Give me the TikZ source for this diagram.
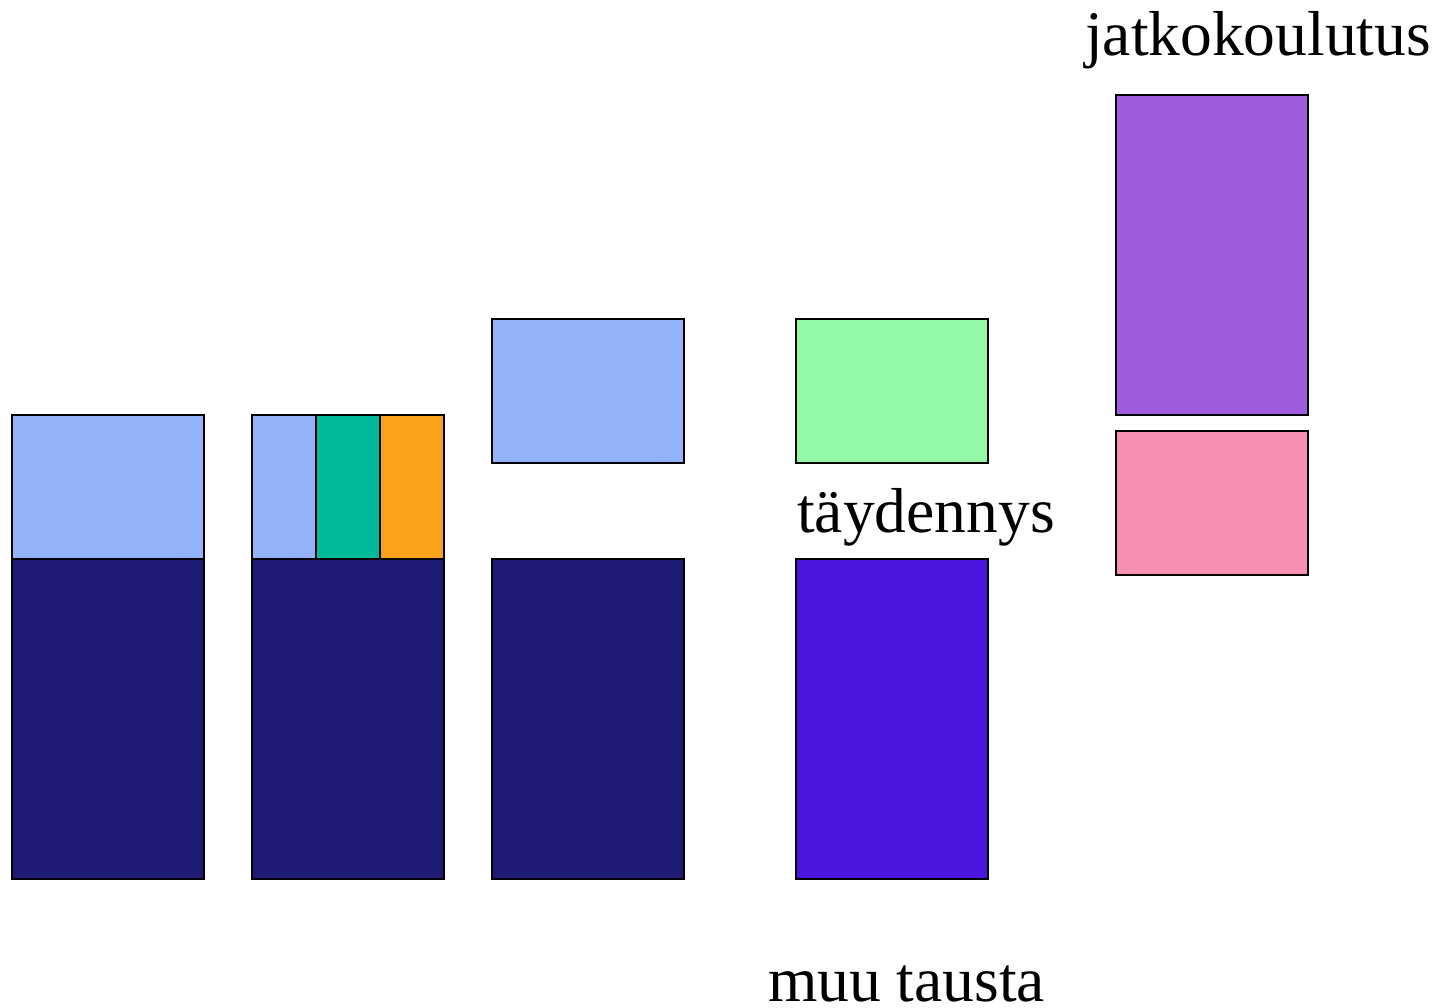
\documentclass[tikz,border=0pt]{standalone}
\usepackage{fontspec}
\setmainfont{Liberation Serif}
\definecolor{lblue}{HTML}{93B3F8}
\definecolor{navy}{HTML}{201C76}
\definecolor{teal2}{HTML}{00BB9A}
\definecolor{orng}{HTML}{F9A21A}
\definecolor{lgreen}{HTML}{93F9A6}
\definecolor{vblue}{HTML}{4B17E0}
\definecolor{purp}{HTML}{9F5CDF}
\definecolor{pinkk}{HTML}{F78FB3}
\begin{document}
\begin{tikzpicture}[x=1pt,y=-1pt,
  blk/.style={draw=black,line width=2pt},
  lbl/.style={anchor=base west,inner sep=0pt,font=\fontsize{63.5}{70}\selectfont}]
\useasboundingbox (0,0) rectangle (1442,1007);
% column 1
\path[blk,fill=lblue] (12,415) rectangle (204,559);
\path[blk,fill=navy] (12,559) rectangle (204,879);
% column 2
\path[blk,fill=lblue] (252,415) rectangle (316,559);
\path[blk,fill=teal2] (316,415) rectangle (380,559);
\path[blk,fill=orng] (380,415) rectangle (444,559);
\path[blk,fill=navy] (252,559) rectangle (444,879);
% column 3
\path[blk,fill=lblue] (492,319) rectangle (684,463);
\path[blk,fill=navy] (492,559) rectangle (684,879);
% column 4
\path[blk,fill=lgreen] (796,319) rectangle (988,463);
\path[blk,fill=vblue] (796,559) rectangle (988,879);
% column 5
\path[blk,fill=purp] (1116,95) rectangle (1308,415);
\path[blk,fill=pinkk] (1116,431) rectangle (1308,575);
% labels
\node[lbl] (tj) at (1085,55) {jatkokoulutus};
\node[lbl] (tt) at (797,532) {täydennys};
\node[lbl] (tm) at (768,1001) {muu tausta};
\end{tikzpicture}
\end{document}
